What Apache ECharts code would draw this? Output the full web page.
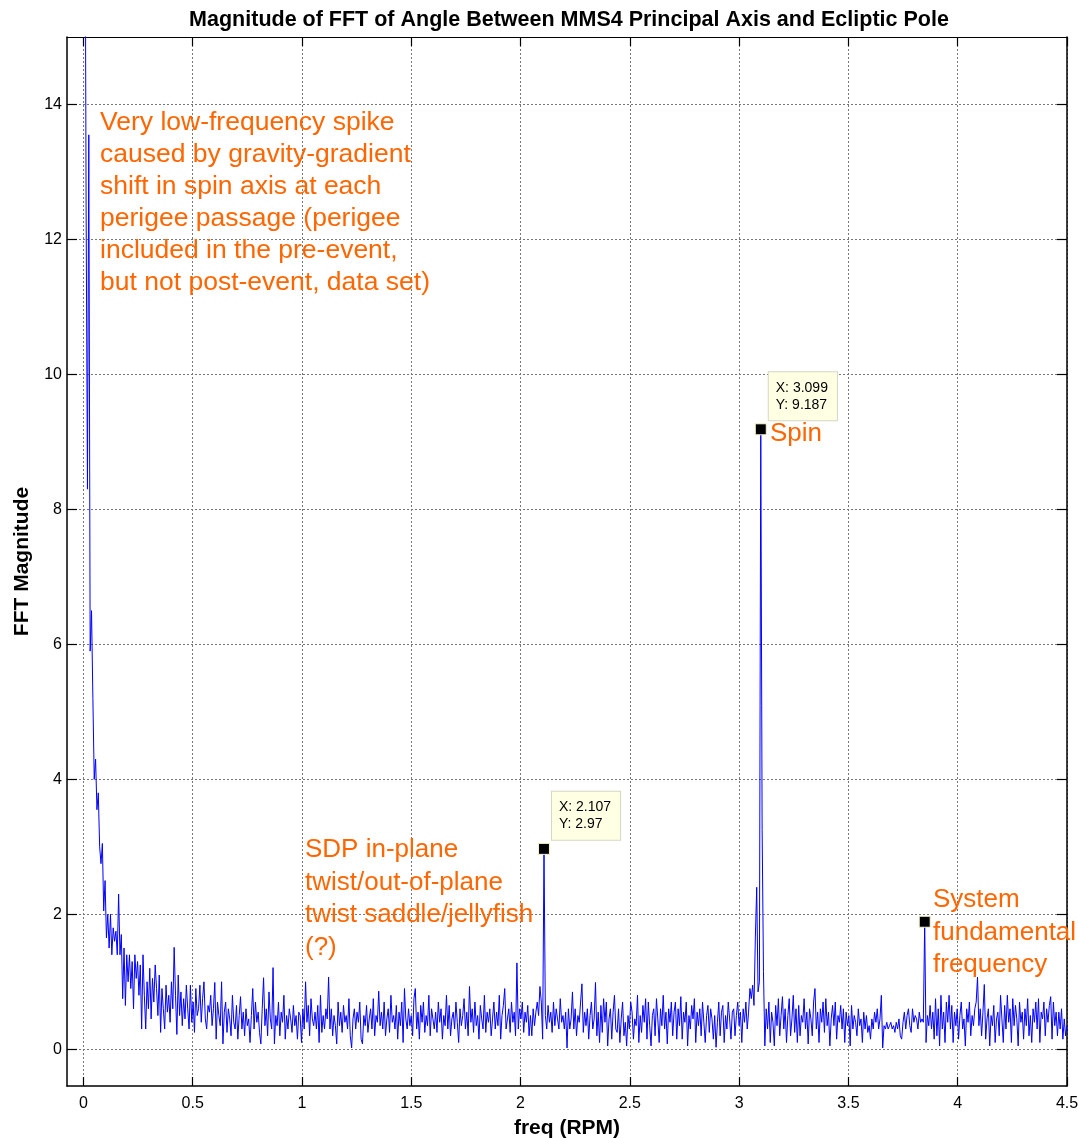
<!DOCTYPE html>
<html>
<head>
<meta charset="utf-8">
<script src="https://cdn.jsdelivr.net/npm/echarts@6/dist/echarts.min.js"></script>
<style>
html,body{margin:0;padding:0;background:#fff;}
#chart{width:1078px;height:1138px;}
</style>
</head>
<body>
<div id="chart"></div>
<script>
// FFT bin spacing (RPM) and magnitudes, one value per bin starting at 0 RPM
const freqStep = 0.006198;
const mag = [
30, 19, 12.5, 8.3, 13.55, 5.9, 6.5, 5.2, 4.0, 4.3, 3.55, 3.8, 3.0, 2.75, 3.05, 2.05, 2.5, 1.65, 2.0, 1.5,
2.0, 1.4, 1.8, 1.6, 1.75, 1.4, 2.3, 1.4, 1.7, 0.75, 1.5, 0.65, 1.4, 1.0, 1.4, 0.9, 1.3, 0.6, 1.4, 1.05,
1.3, 0.8, 1.25, 0.3, 1.4, 0.8, 0.3, 1.0, 0.6, 1.2, 0.45, 1.05, 0.7, 1.25, 0.9, 0.5, 1.1, 0.25, 0.9, 0.6,
0.3, 0.95, 0.55, 0.8, 0.4, 1.0, 0.6, 1.51, 0.8, 0.22, 1.1, 0.5, 0.85, 0.35, 0.75, 0.45, 0.95, 0.6, 0.3, 0.95,
0.4, 0.7, 0.25, 0.9, 0.5, 0.6, 0.95, 0.4, 0.75, 1.0, 0.45, 0.3, 0.65, 0.55, 0.8, 0.35, 0.6, 0.99, 0.15, 0.7,
0.5, 0.35, 1.0, 0.08, 0.55, 0.7, 0.25, 0.6, 0.45, 0.2, 0.8, 0.4, 0.3, 0.65, 0.15, 0.5, 0.78, 0.3, 0.55, 0.2,
0.6, 0.35, 0.45, 0.1, 0.5, 0.9, 0.3, 0.7, 0.4, 0.55, 0.25, 0.08, 0.6, 1.06, 0.35, 0.6, 0.2, 0.85, 0.45, 0.3,
1.21, 0.08, 0.5, 0.35, 0.7, 0.2, 0.55, 0.4, 0.8, 0.15, 0.5, 0.3, 0.6, 0.45, 0.25, 0.65, 0.35, 0.5, 0.15, 0.55,
0.5, 0.1, 0.6, 0.3, 1.0, 0.4, 0.65, 0.2, 0.75, 0.45, 0.35, 0.55, 0.3, 0.65, 0.1, 0.8, 0.25, 0.5, 0.3, 0.6,
0.45, 1.07, 0.3, 0.6, 0.2, 0.5, 0.35, 0.08, 0.7, 0.35, 0.55, 0.25, 0.65, 0.4, 0.5, 0.3, 0.75, 0.2, 0.02, 0.45,
0.6, 0.3, 0.55, 0.4, 0.7, 0.15, 0.08, 0.5, 0.35, 0.65, 0.25, 0.45, 0.6, 0.3, 0.75, 0.2, 0.5, 0.4, 0.86, 0.35,
0.55, 0.3, 0.7, 0.2, 0.45, 0.6, 0.25, 0.8, 0.4, 0.5, 0.3, 0.65, 0.15, 0.55, 0.35, 0.7, 0.1, 0.9, 0.45, 0.3,
0.6, 0.35, 0.5, 0.2, 0.75, 0.9, 0.3, 0.55, 0.15, 0.65, 0.4, 0.7, 0.25, 0.5, 0.35, 0.8, 0.2, 0.6, 0.45, 0.3,
0.55, 0.25, 0.7, 0.4, 0.6, 0.15, 0.5, 0.35, 0.8, 0.3, 0.65, 0.2, 0.45, 0.55, 0.3, 0.7, 0.4, 0.1, 0.6, 0.35,
0.5, 0.75, 0.3, 0.55, 0.2, 0.93, 0.4, 0.6, 0.25, 0.7, 0.35, 0.5, 0.15, 0.65, 0.45, 0.3, 0.8, 0.25, 0.55, 0.4,
0.6, 0.2, 0.45, 0.7, 0.3, 0.55, 0.35, 0.8, 0.15, 0.5, 0.65, 0.9, 0.3, 0.45, 0.6, 0.25, 0.7, 0.4, 0.55, 0.2,
1.28, 0.3, 0.6, 0.45, 0.7, 0.25, 0.55, 0.4, 0.65, 0.2, 0.5, 0.2, 0.6, 0.35, 0.55, 0.7, 0.5, 0.93, 0.7, 0.15,
2.97, 0.5, 0.3, 0.65, 0.4, 0.55, 0.25, 0.7, 0.35, 0.6, 0.45, 0.3, 0.75, 0.4, 0.5, 0.3, 0.55, 0.02, 0.6, 0.3,
0.45, 0.85, 0.3, 0.6, 0.2, 0.5, 0.4, 0.7, 0.97, 0.25, 0.55, 0.35, 0.6, 0.15, 0.5, 0.7, 0.3, 0.45, 0.99, 0.2,
0.55, 0.1, 0.65, 0.25, 0.75, 0.4, 0.7, 0.05, 0.45, 0.6, 0.15, 0.55, 0.8, 0.3, 0.25, 0.6, 0.1, 0.45, 0.7, 0.2,
0.4, 0.05, 0.5, 0.3, 0.7, 0.55, 0.15, 0.45, 0.35, 0.8, 0.1, 0.5, 0.25, 0.65, 0.4, 0.75, 0.15, 0.7, 0.35, 0.05,
0.5, 0.6, 0.2, 0.75, 0.45, 0.1, 0.6, 0.35, 0.8, 0.3, 0.55, 0.08, 0.6, 0.4, 0.7, 0.2, 0.55, 0.7, 0.15, 0.6,
0.35, 0.78, 0.15, 0.55, 0.4, 0.7, 0.05, 0.5, 0.3, 0.65, 0.45, 0.75, 0.1, 0.55, 0.35, 0.6, 0.2, 0.7, 0.4, 0.1,
0.5, 0.65, 0.25, 0.6, 0.45, 0.15, 0.5, 0.03, 0.4, 0.7, 0.2, 0.55, 0.65, 0.1, 0.5, 0.3, 0.7, 0.45, 0.15, 0.55,
0.6, 0.2, 0.5, 0.7, 0.35, 0.55, 0.1, 0.6, 0.4, 0.7, 0.3, 0.55, 0.9, 0.75, 0.95, 0.65, 1.65, 2.4, 0.85, 1.0,
9.187, 3.26, 1.15, 0.05, 0.6, 0.3, 0.7, 0.1, 0.55, 0.4, 0.05, 0.65, 0.35, 0.75, 0.2, 0.5, 0.78, 0.3, 0.6, 0.1,
0.5, 0.75, 0.2, 0.45, 0.8, 0.25, 0.6, 0.1, 0.65, 0.2, 0.5, 0.4, 0.75, 0.3, 0.55, 0.08, 0.6, 0.45, 0.2, 0.7,
0.9, 0.3, 0.55, 0.1, 0.6, 0.4, 0.7, 0.25, 0.75, 0.35, 0.55, 0.05, 0.45, 0.65, 0.35, 0.7, 0.15, 0.5, 0.4, 0.65,
0.3, 0.6, 0.1, 0.55, 0.35, 0.5, 0.05, 0.65, 0.3, 0.5, 0.4, 0.2, 0.6, 0.35, 0.45, 0.1, 0.55, 0.3, 0.5, 0.25,
0.35, 0.15, 0.45, 0.3, 0.55, 0.4, 0.6, 0.3, 0.45, 0.8, 0.02, 0.35, 0.3, 0.4, 0.3, 0.35, 0.4, 0.3, 0.35, 0.25,
0.4, 0.3, 0.45, 0.2, 0.15, 0.4, 0.55, 0.3, 0.5, 0.6, 0.35, 0.25, 0.6, 0.4, 0.5, 0.45, 0.3, 0.55, 0.4, 0.45,
0.4, 1.89, 0.1, 0.5, 0.35, 0.65, 0.3, 0.55, 0.15, 0.75, 0.2, 0.6, 0.05, 0.8, 0.3, 0.55, 0.1, 0.7, 0.4, 0.8,
0.3, 0.65, 0.1, 0.55, 0.35, 0.6, 0.15, 0.5, 0.7, 0.3, 0.45, 0.05, 0.6, 0.4, 0.7, 0.2, 0.5, 0.35, 0.6, 0.7,
1.07, 0.35, 0.6, 0.2, 0.55, 0.96, 0.15, 0.45, 0.6, 0.05, 0.5, 0.35, 0.65, 0.1, 0.45, 0.55, 0.2, 0.8, 0.45, 0.1,
0.65, 0.3, 0.8, 0.4, 0.6, 0.1, 0.75, 0.35, 0.65, 0.45, 0.05, 0.7, 0.4, 0.55, 0.15, 0.6, 0.35, 0.75, 0.2, 0.5,
0.1, 0.6, 0.4, 0.7, 0.3, 0.75, 0.1, 0.55, 0.45, 0.7, 0.2, 0.6, 0.4, 0.65, 0.78, 0.15, 0.7, 0.35, 0.55, 0.2,
0.55, 0.3, 0.6, 0.15, 0.45, 0.2, 0.35
];

// Data-tip markers
const markerFreq = [2.107, 3.099, 3.849];
const markerMag = [2.97, 9.187, 1.89];
const markerTip = [true, true, false];

// Tick labels
const xTicks = [0, 0.5, 1, 1.5, 2, 2.5, 3, 3.5, 4, 4.5];
const yTicks = [0, 2, 4, 6, 8, 10, 12, 14];

// Texts
const titleText = 'Magnitude of FFT of Angle Between MMS4 Principal Axis and Ecliptic Pole';
const xName = 'freq (RPM)';
const yName = 'FFT Magnitude';
const noteLow = ['Very low-frequency spike', 'caused by gravity-gradient', 'shift in spin axis at each', 'perigee passage (perigee', 'included in the pre-event,', 'but not post-event, data set)'];
const noteSdp = ['SDP in-plane', 'twist/out-of-plane', 'twist saddle/jellyfish', '(?)'];
const noteSpin = ['Spin'];
const noteSys = ['System', 'fundamental', 'frequency'];

const FONT = '"Liberation Sans", Arial, Helvetica, sans-serif';
const ORANGE = '#ff6600';

const lineData = mag.map((v, i) => [i * freqStep, v]);
const markerData = markerFreq.map((f, i) => ({
  value: [f, markerMag[i]],
  label: { show: markerTip[i] }
}));

const gridLine = { show: true, lineStyle: { color: '#777777', width: 1, type: [2, 2] } };

const chart = echarts.init(document.getElementById('chart'), null, { renderer: 'canvas' });
chart.setOption({
  backgroundColor: '#ffffff',
  animation: false,
  title: {
    text: titleText,
    left: 564,
    textAlign: 'center',
    top: 4,
    textStyle: { fontFamily: FONT, fontSize: 21.5, fontWeight: 'bold', color: '#000' }
  },
  grid: { left: 67, right: 11, top: 37, bottom: 52, containLabel: false, outerBoundsMode: 'none' },
  xAxis: [
    {
      type: 'value', position: 'bottom', min: -0.075, max: 4.5,
      name: xName, nameLocation: 'middle', nameGap: 32,
      nameTextStyle: { fontFamily: FONT, fontSize: 21, fontWeight: 'bold', color: '#000' },
      axisLine: { show: true, onZero: false, lineStyle: { color: '#000', width: 1.5 } },
      axisTick: { show: true, inside: true, length: 9, customValues: xTicks, lineStyle: { color: '#000', width: 1.2 } },
      axisLabel: { show: true, customValues: xTicks, margin: 10, fontFamily: FONT, fontSize: 16, color: '#000', showMinLabel: true, showMaxLabel: true },
      splitLine: gridLine
    },
    {
      type: 'value', position: 'top', min: -0.075, max: 4.5,
      axisLine: { show: true, onZero: false, lineStyle: { color: '#000', width: 1.2 } },
      axisTick: { show: true, inside: true, length: 9, customValues: xTicks, lineStyle: { color: '#000', width: 1.2 } },
      axisLabel: { show: false },
      splitLine: { show: false }
    }
  ],
  yAxis: [
    {
      type: 'value', position: 'left', min: -0.544, max: 15,
      name: yName, nameLocation: 'middle', nameGap: 34, nameRotate: 90,
      nameTextStyle: { fontFamily: FONT, fontSize: 21, fontWeight: 'bold', color: '#000' },
      axisLine: { show: true, onZero: false, lineStyle: { color: '#000', width: 1.5 } },
      axisTick: { show: true, inside: true, length: 10, customValues: yTicks, lineStyle: { color: '#000', width: 1.2 } },
      axisLabel: { show: true, customValues: yTicks, margin: 5, fontFamily: FONT, fontSize: 16, color: '#000' },
      splitLine: gridLine
    },
    {
      type: 'value', position: 'right', min: -0.544, max: 15,
      axisLine: { show: true, onZero: false, lineStyle: { color: '#000', width: 1.5 } },
      axisTick: { show: true, inside: true, length: 10, customValues: yTicks, lineStyle: { color: '#000', width: 1.2 } },
      axisLabel: { show: false },
      splitLine: { show: false }
    }
  ],
  series: [
    {
      type: 'line',
      xAxisIndex: 0, yAxisIndex: 0,
      data: lineData,
      showSymbol: false,
      symbol: 'none',
      clip: true,
      lineStyle: { color: '#0000ff', width: 1 },
      emphasis: { disabled: true },
      z: 2
    },
    {
      type: 'scatter',
      xAxisIndex: 0, yAxisIndex: 0,
      data: markerData,
      symbol: 'rect',
      symbolSize: 11,
      itemStyle: { color: '#000000', borderColor: '#fbf7d0', borderWidth: 1, opacity: 1 },
      label: {
        show: true,
        position: 'inside',
        offset: [8, -33],
        align: 'left',
        formatter: p => 'X: ' + p.value[0] + '\nY: ' + p.value[1],
        fontFamily: FONT, fontSize: 14, lineHeight: 17, color: '#000',
        backgroundColor: '#ffffe4',
        borderColor: '#d6d6c4', borderWidth: 1,
        padding: [7, 9, 7, 7]
      },
      emphasis: { disabled: true },
      z: 5
    }
  ],
  graphic: [
    { type: 'text', left: 100, top: 107, z: 10, style: { text: noteLow.join('\n'), fontFamily: FONT, fontSize: 26.5, lineHeight: 32, fill: ORANGE } },
    { type: 'text', left: 305, top: 834, z: 10, style: { text: noteSdp.join('\n'), fontFamily: FONT, fontSize: 26, lineHeight: 32.5, fill: ORANGE } },
    { type: 'text', left: 770, top: 418, z: 10, style: { text: noteSpin.join('\n'), fontFamily: FONT, fontSize: 26, lineHeight: 32, fill: ORANGE } },
    { type: 'text', left: 933, top: 884, z: 10, style: { text: noteSys.join('\n'), fontFamily: FONT, fontSize: 26, lineHeight: 32.5, fill: ORANGE } }
  ]
});
</script>
</body>
</html>
